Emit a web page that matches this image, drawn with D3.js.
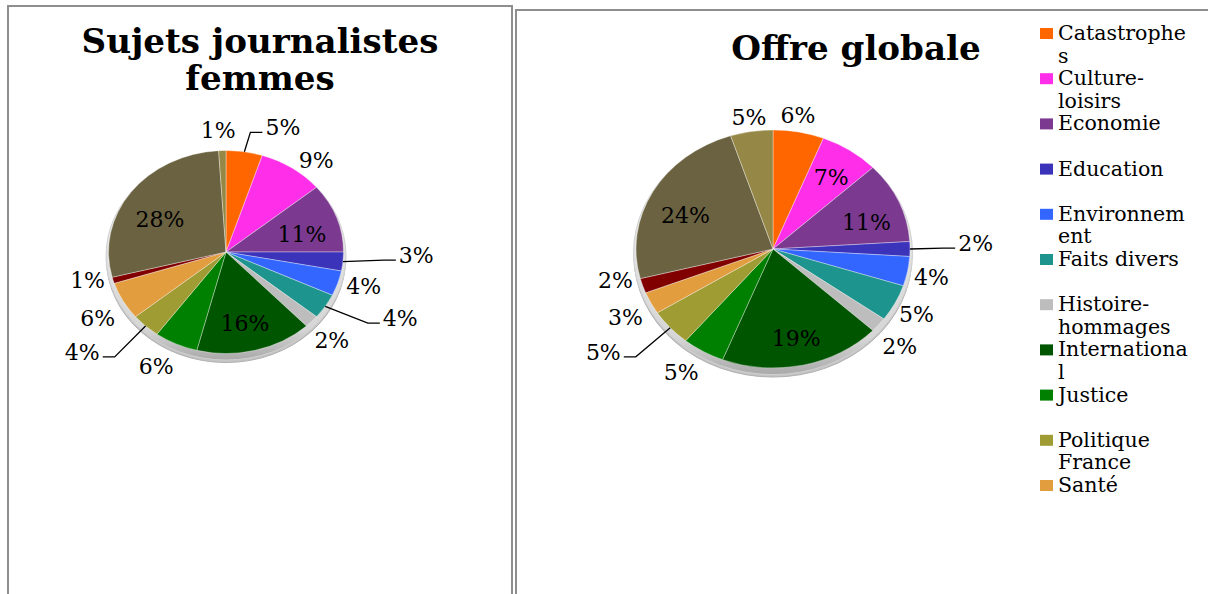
<!DOCTYPE html>
<html><head><meta charset="utf-8">
<script src="https://cdn.jsdelivr.net/npm/d3@7"></script>
<style>body{margin:0;background:#fff} svg{display:block}</style>
</head><body><svg id="c" width="1208" height="594"></svg>
<script>
// ---------- data ----------
const categories = ["Catastrophes","Culture-loisirs","Economie","Education","Environnement","Faits divers","Histoire-hommages","International","Justice","Politique France","Santé","Sciences","Société","Sport"];
const legendLines = [["Catastrophe","s"],["Culture-","loisirs"],["Economie"],["Education"],["Environnem","ent"],["Faits divers"],["Histoire-","hommages"],["Internationa","l"],["Justice"],["Politique","France"],["Santé"]];
const colors = ["#FF6600","#FF2EE8","#7B3A90","#3B33B9","#3366FF","#1E948E","#BDBDBD","#005500","#008000","#9E9C32","#E29D3E","#800000","#6A6240","#958745"];
const femmesValues  = [5,9,11,3,4,4,2,16,6,4,6,1,28,1];
const globaleValues = [6,7,11,2,4,5,2,19,5,5,3,2,24,5];
const femmesTitle = ["Sujets journalistes","femmes"];
const globaleTitle = ["Offre globale"];

// ---------- layout (label placement: [radius factor, angle nudge deg, leader]) ----------
const femmesPlace = [[1.32,12.5,1],[1.19,6,0],[0.67,4.5,0],[1.62,-4.3,1],[1.22,-2,0],[1.62,-8.7,1],[1.25,0.7,0],[0.72,1.4,0],[1.27,2.7,0],[1.57,8,1],[1.27,-2,0],[1.21,3,0],[0.65,-6,0],[1.2,-1.4,0]];
const globalePlace = [[1.14,-1.6,0],[0.74,0.8,0],[0.72,4.9,0],[1.48,-1.9,1],[1.18,0.7,0],[1.18,0.5,0],[1.23,1.7,0],[0.77,-0.1,0],[1.23,2.4,0],[1.51,6.5,1],[1.22,-1,0],[1.18,5.2,0],[0.70,-4.6,0],[1.12,0,0]];

const FONT = "'DejaVu Serif', Georgia, serif";
const svg = d3.select("#c");
svg.append("rect").attr("width",1208).attr("height",594).attr("fill","#fff");

// panel borders
svg.append("rect").attr("x",8).attr("y",6).attr("width",504).attr("height",620)
  .attr("fill","none").attr("stroke","#8e8e8e").attr("stroke-width",2);
svg.append("rect").attr("x",516).attr("y",10).attr("width",720).attr("height",620)
  .attr("fill","none").attr("stroke","#8e8e8e").attr("stroke-width",2);

// gradient for rim
const defs = svg.append("defs");
const g1 = defs.append("linearGradient").attr("id","rim").attr("x1",0).attr("y1",0).attr("x2",0).attr("y2",1);
g1.append("stop").attr("offset","0%").attr("stop-color","#f2f2f2");
g1.append("stop").attr("offset","85%").attr("stop-color","#d6d6d6");
g1.append("stop").attr("offset","100%").attr("stop-color","#a9a9a9");

// title sizing: fit first title line to its measured width
const probe = svg.append("text").attr("font-family",FONT).attr("font-weight","bold")
  .attr("font-size",30).text(femmesTitle[0]);
const titleSize = 30 * 357 / probe.node().getComputedTextLength();
probe.remove();
const lprobe = svg.append("text").attr("font-family",FONT).attr("font-size",20).text(legendLines[0][0]);
const legendSize = 20 * 128 / lprobe.node().getComputedTextLength();
lprobe.remove();
const labelSize = 22;

function drawTitle(lines, cx, y0, dy){
  svg.append("text").attr("font-family",FONT).attr("font-weight","bold")
    .attr("font-size",titleSize).attr("text-anchor","middle").attr("fill","#000")
    .selectAll("tspan").data(lines).join("tspan")
    .attr("x",cx).attr("y",(d,i)=>y0+i*dy).text(d=>d);
}
drawTitle(femmesTitle, 260, 53, 37);
drawTitle(globaleTitle, 856, 60, 37);

function drawPie(values, place, cx, cy, R, k){
  const pie = d3.pie().sort(null).value(d=>d).startAngle(0).endAngle(2*Math.PI);
  const arcs = pie(values);
  const arc = d3.arc().innerRadius(0).outerRadius(R);
  // 3D rim
  svg.append("ellipse").attr("cx",cx).attr("cy",cy+7).attr("rx",R+2).attr("ry",R*k+2)
    .attr("fill","#c4c4c4").attr("stroke","#b0b0b0").attr("stroke-width",1);
  svg.append("ellipse").attr("cx",cx).attr("cy",cy+4).attr("rx",R+2.5).attr("ry",R*k+2.5)
    .attr("fill","url(#rim)").attr("stroke","#d0d0d0").attr("stroke-width",1);
  const g = svg.append("g").attr("transform",`translate(${cx},${cy}) scale(1,${k})`);
  g.selectAll("path").data(arcs).join("path")
    .attr("d",arc).attr("fill",(d,i)=>colors[i])
    .attr("stroke","#ffffff").attr("stroke-opacity",0.45).attr("stroke-width",0.8)
    .attr("vector-effect","non-scaling-stroke");
  const pt = (a,f)=>[cx + R*f*Math.sin(a), cy - R*k*f*Math.cos(a)];
  const lab = svg.append("g").attr("font-family",FONT).attr("font-size",labelSize).attr("fill","#000");
  arcs.forEach((d,i)=>{
    const [f,nudge,leader] = place[i];
    const mid = (d.startAngle+d.endAngle)/2;
    const a = mid + nudge*Math.PI/180;
    const [x,y] = pt(a,f);
    const t = lab.append("text").attr("x",x).attr("y",y+0.365*labelSize)
      .attr("text-anchor","middle").text(Math.round(d.value)+"%");
    if(leader){
      const hw = t.node().getComputedTextLength()/2;
      const [rx0,ry0] = pt(mid,1.0);
      const side = x>cx ? -1 : 1;
      const edge = x + side*hw;
      const ly = y+5;
      svg.append("polyline")
        .attr("points",[[rx0,ry0],[edge+side*15,ly],[edge+side*3,ly]].map(p=>p.join(",")).join(" "))
        .attr("fill","none").attr("stroke","#000").attr("stroke-width",1.3);
    }
  });
}
drawPie(femmesValues, femmesPlace, 226, 252, 117.5, 0.864);
drawPie(globaleValues, globalePlace, 773, 249, 137, 0.869);

// legend (truncated as in the original)
const lg = svg.append("g").attr("font-family",FONT).attr("font-size",legendSize).attr("fill","#000");
legendLines.forEach((lines,i)=>{
  const by = 40 + i*45.2;
  lg.append("rect").attr("x",1040).attr("y",by-12).attr("width",13).attr("height",11).attr("fill",colors[i]);
  lg.append("text").selectAll("tspan").data(lines).join("tspan")
    .attr("x",1058).attr("y",(d,j)=>by+j*22.6).text(d=>d);
});
</script>
</body></html>
